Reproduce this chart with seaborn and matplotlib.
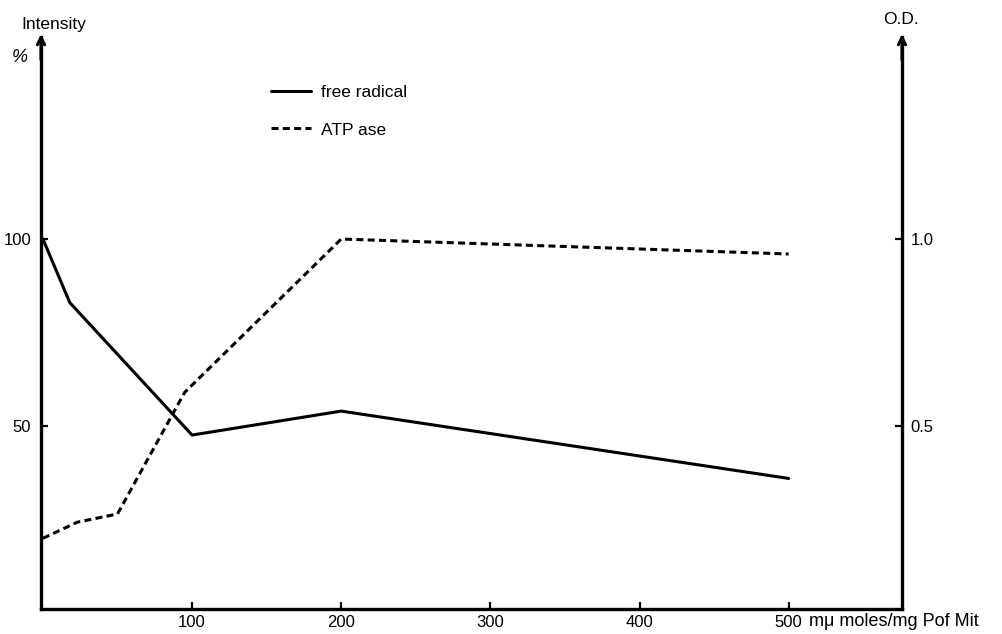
import matplotlib
matplotlib.use("Agg")
import matplotlib.pyplot as plt
import numpy as np
import pandas as pd
import seaborn as sns

# values
fr_x = [0, 18, 100, 200, 500]
fr_intensity = [100, 83, 47.6, 54, 36]          # free radical, % intensity (left axis)
atp_x = [0, 23, 50, 95, 200, 500]
atp_od = [0.20, 0.243, 0.265, 0.59, 1.0, 0.96]   # ATP ase, O.D. (right axis)

x_ticks = [100, 200, 300, 400, 500]
left_ticks = [50, 100]
right_ticks = [0.5, 1.0]
right_labels = ["0.5", "1.0"]

sns.set_style("white")
plt.rcParams["font.family"] = ["Liberation Sans", "DejaVu Sans"]
plt.rcParams["text.color"] = "black"
plt.rcParams["xtick.color"] = "black"
plt.rcParams["ytick.color"] = "black"

fr = pd.DataFrame({"x": fr_x, "y": fr_intensity})
atp = pd.DataFrame({"x": atp_x, "y": atp_od})

fig = plt.figure(figsize=(10.03, 6.34), dpi=100)
ax = fig.add_axes([41 / 1003, 25 / 634, (902 - 41) / 1003, (609 - 37) / 634])
ax2 = ax.twinx()

lw = 2.2
sns.lineplot(data=fr, x="x", y="y", ax=ax, color="black", lw=lw,
             label="free radical", legend=False)
sns.lineplot(data=atp, x="x", y="y", ax=ax2, color="black", lw=lw,
             linestyle=(0, (2.3, 1.4)), label="ATP ase", legend=False)

ax.set_xlim(-1.3, 576)
ax.set_ylim(1.1, 154)
ax2.set_ylim(1.1 / 100, 1.54)

for a in (ax, ax2):
    a.set_xlabel("")
    a.set_ylabel("")
    a.spines["top"].set_visible(False)
    for s in a.spines.values():
        s.set_linewidth(2.4)
        s.set_color("black")

ax.spines["right"].set_visible(False)
ax2.spines["left"].set_visible(False)
ax2.spines["bottom"].set_visible(False)

ax.set_xticks(x_ticks)
ax.set_xticklabels([str(t) for t in x_ticks])
ax.set_yticks(left_ticks)
ax.set_yticklabels([str(t) for t in left_ticks])
ax2.set_yticks(right_ticks)
ax2.set_yticklabels(right_labels)

fs = 12
ax.tick_params(axis="x", direction="in", length=5, width=1.6, pad=4,
               labelsize=fs, bottom=True, top=False, colors="black")
ax.tick_params(axis="y", direction="in", length=5, width=1.6, pad=7,
               labelsize=fs, left=True, right=False, colors="black")
ax2.tick_params(axis="y", direction="in", length=5, width=1.6, pad=6,
                labelsize=fs, right=True, left=False, colors="black")

# arrow heads at the top of both vertical axes
for xf in (0, 1):
    ax.annotate("", xy=(xf, 1.005), xytext=(xf, 0.96), xycoords="axes fraction",
                arrowprops=dict(arrowstyle="->", lw=2.2, color="black",
                                mutation_scale=13, shrinkA=0, shrinkB=0),
                annotation_clip=False)

fig.text(21 / 1003, 1 - 25 / 634, "Intensity", fontsize=12.5, va="center", ha="left")
fig.text(12 / 1003, 1 - 58 / 634, "%", fontsize=13, style="italic", va="center", ha="left")
fig.text(901 / 1003, 1 - 19 / 634, "O.D.", fontsize=12.5, va="center", ha="center")
fig.text(809 / 1003, 1 - 621 / 634, "m\u03bc moles/mg Pof Mit", fontsize=13,
         va="center", ha="left")

h1, l1 = ax.get_legend_handles_labels()
h2, l2 = ax2.get_legend_handles_labels()
leg = ax2.legend(h1 + h2, l1 + l2, frameon=False, fontsize=12.5, handlelength=2.3,
                 handletextpad=0.6, labelspacing=1.3, loc="upper left",
                 bbox_to_anchor=(214 / 861, 1 - 32 / 572))
for t in leg.get_texts():
    t.set_color("black")

fig.savefig("out.png", dpi=100)
